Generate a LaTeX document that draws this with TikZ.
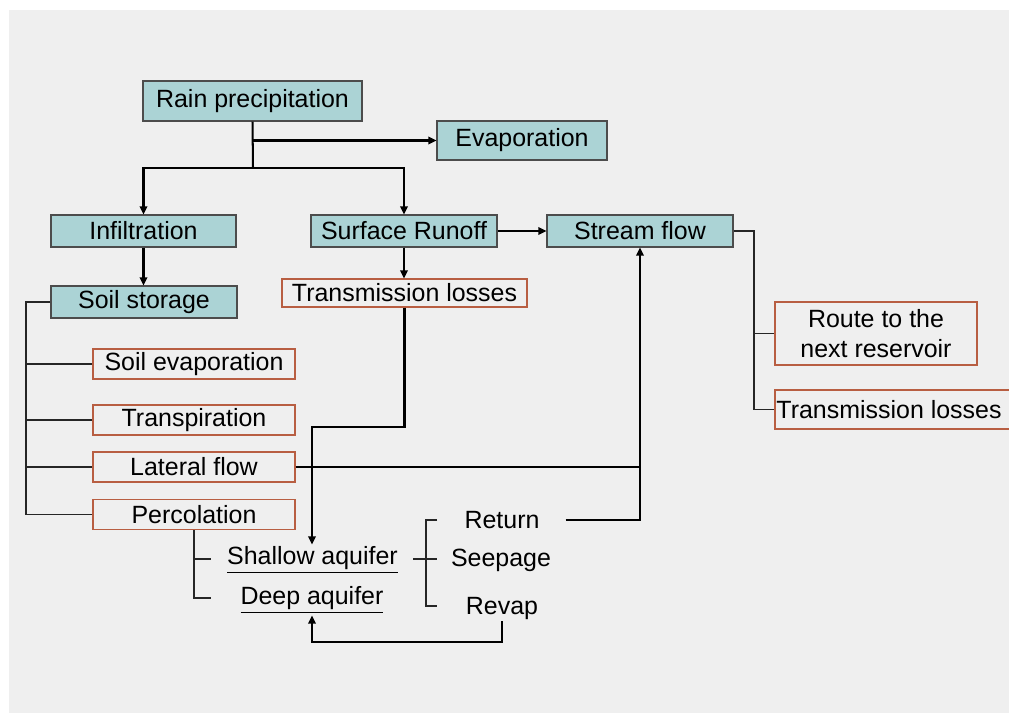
\documentclass[tikz,border=0pt]{standalone}
\usepackage{fontspec}
\setmainfont{Liberation Sans}
\usetikzlibrary{positioning,arrows.meta,calc}
\definecolor{teal0}{RGB}{171,211,213}
\definecolor{rust}{RGB}{184,94,66}
\definecolor{paper}{RGB}{239,239,239}

\begin{document}
\begin{tikzpicture}[
  >={Triangle[length=4.6pt,width=4.2pt]},
  every node/.style={font=\fontsize{14.2}{17}\selectfont,inner sep=1pt},
  proc/.style={draw=black!70,line width=0.6pt,fill=teal0,minimum height=0.64cm},
  loss/.style={draw=rust,line width=0.6pt,minimum width=4.04cm,minimum height=0.6cm},
  lab/.style={inner sep=1pt},
  flow/.style={->,line width=1.15pt},
  tie/.style={line width=0.6pt,draw=black!85}
]

\useasboundingbox (0,0) rectangle (20.18,-14.26);
\fill[white] (0,0) rectangle (20.18,-14.26);
\fill[paper] (0.18,-0.2) rectangle (20.18,-14.26);

% top of the tree
\node[proc,minimum width=4.38cm,minimum height=0.8cm] (rain) at (5.05,-2.02) {Rain precipitation};
\node[proc,minimum width=3.40cm,minimum height=0.78cm] (evap) at (10.44,-2.81) {Evaporation};

\node[proc,minimum width=3.70cm] (infil) at (2.87,-4.62) {Infiltration};
\node[proc,minimum width=3.72cm] (runoff) at (8.08,-4.62) {Surface Runoff};
\node[proc,minimum width=3.72cm] (stream) at (12.80,-4.62) {Stream flow};

\node[proc,minimum width=3.72cm] (soil) at (2.88,-6.04) {Soil storage};
\node[loss,minimum width=4.90cm,minimum height=0.56cm] (tloss) at (8.09,-5.86) {Transmission losses};

% soil water balance
\node[loss] (soilevap) at (3.88,-7.28) {Soil evaporation};
\node[loss] (transp) at (3.88,-8.40) {Transpiration};
\node[loss] (lateral) at (3.88,-9.34) {Lateral flow};
\node[loss] (percol) at (3.88,-10.29) {Percolation};

% channel routing
\node[loss,minimum height=1.26cm,align=center] (route) at (17.52,-6.67) {Route to the\\next reservoir};
\node[loss,minimum width=4.80cm,minimum height=0.78cm] (tlossb) at (17.90,-8.19) {\hspace*{-0.12cm}Transmission losses\hspace*{0.12cm}};

% groundwater
\node[lab] (shallow) at (6.25,-11.20) {\underline{Shallow aquifer}};
\node[lab] (deep) at (6.24,-12.00) {\underline{Deep aquifer}};
\node[lab] (return) at (10.04,-10.40) {Return};
\node[lab] (seepage) at (10.02,-11.20) {Seepage};
\node[lab] (revap) at (10.04,-12.16) {Revap};

\coordinate (fork) at (5.06,-3.36);
\coordinate (bend) at (6.24,-8.54);
\coordinate (spine) at (0.52,-6.04);
\coordinate (sbar) at (15.08,-4.62);
\coordinate (sa) at (4.22,-11.18);
\coordinate (da) at (4.22,-11.96);
\coordinate (ga) at (8.26,-11.18);
\coordinate (gmid) at (8.52,-11.18);
\coordinate (gb) at (8.74,-11.18);
\coordinate (gtop) at (8.74,-10.40);
\coordinate (gbot) at (8.74,-12.12);
\coordinate (low) at (6.24,-12.84);

% main flow
\draw[line width=1.15pt] (rain.south) -- (fork);
\draw[flow] (rain.south |- evap.west) -- (evap.west);
\draw[flow] (fork) -| (infil.north);
\draw[flow] (fork) -| (runoff.north);
\draw[flow] (runoff.east) -- (stream.west);
\draw[flow] (infil.south) -- (infil.south |- soil.north);
\draw[flow] (runoff.south) -- (runoff.south |- tloss.north);
\draw[flow] (tloss.south) |- (bend) -- (bend |- shallow.north);
\draw[flow] (lateral.east) -| (stream.south);
\draw[line width=1.15pt] ([xshift=0.48cm]return.east) -| (stream.south |- lateral.east);
\draw[flow] (revap.south) |- (low) -- (deep.south);

% brackets
\draw[tie] (soil.west) -- (spine) |- (percol.west);
\foreach \n in {soilevap,transp,lateral}
  \draw[tie] (spine |- \n.west) -- (\n.west);
\draw[tie] (percol.south) |- (da);
\draw[tie] (percol.south |- sa) -- (sa);
\draw[tie] (ga) -- (gb);
\draw[tie] (gtop) -| (gmid) |- (gbot);
\draw[tie] (stream.east) -- (sbar) |- (tlossb.west);
\draw[tie] (sbar |- route.west) -- (route.west);

\end{tikzpicture}
\end{document}
